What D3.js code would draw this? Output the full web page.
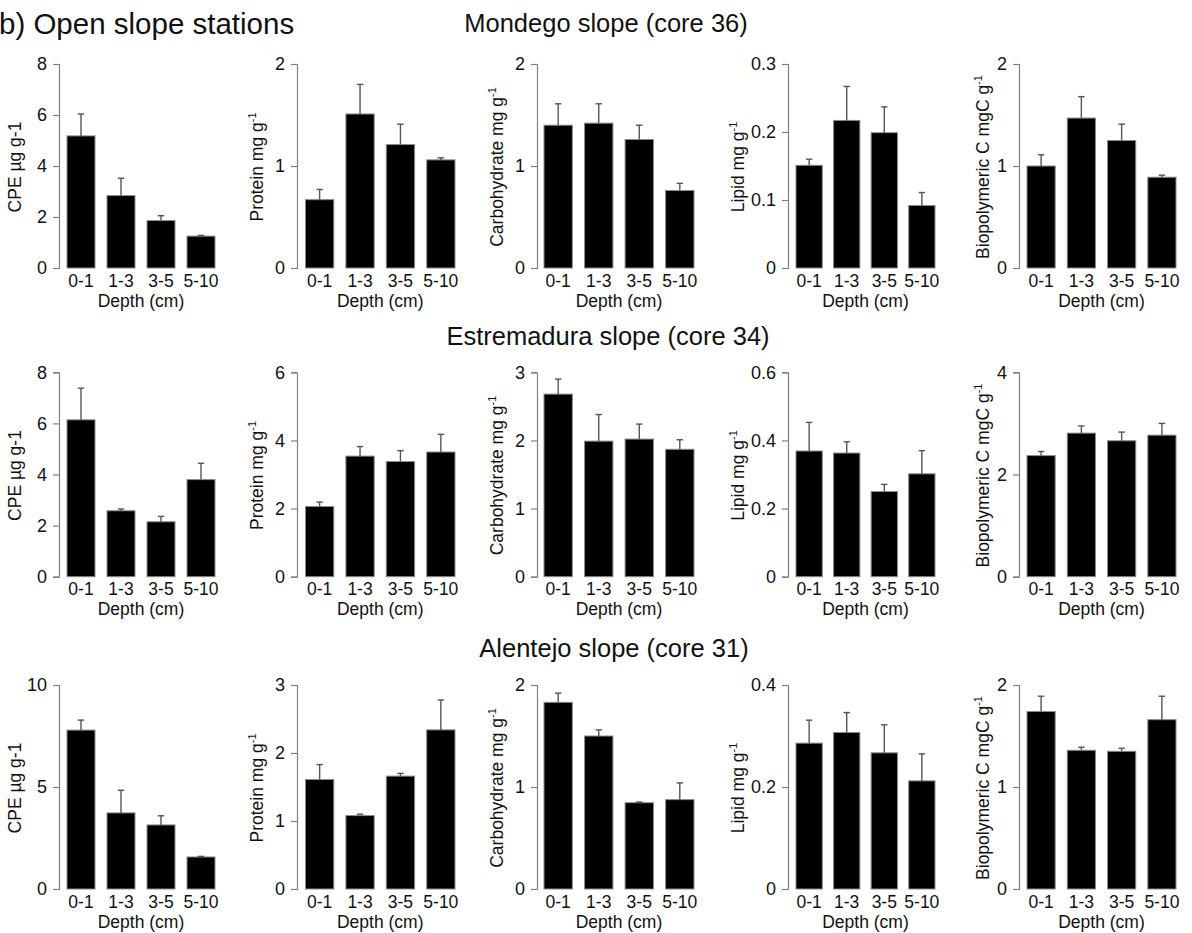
<!DOCTYPE html>
<html>
<head>
<meta charset="utf-8">
<script src="https://cdn.jsdelivr.net/npm/d3@7"></script>
<style>
  html, body { margin: 0; padding: 0; background: #fff; }
  svg { display: block; font-family: "Liberation Sans", Arial, sans-serif; }
</style>
</head>
<body>
<svg id="chart" width="1192" height="933"></svg>
<script>
// ---------- data ----------
const depths = ["0-1", "1-3", "3-5", "5-10"];
const stations = ["Mondego slope (core 36)", "Estremadura slope (core 34)", "Alentejo slope (core 31)"];
const variables = ["CPE", "Protein", "Carbohydrate", "Lipid", "Biopolymeric C"];
const yLabelMain = ["CPE µg g-1", "Protein mg g", "Carbohydrate mg g", "Lipid mg g", "Biopolymeric C mgC g"];
const yLabelSup = ["", "-1", "-1", "-1", "-1"];
const panelTitle = "b) Open slope stations";
const xTitle = "Depth (cm)";

// means per variable (CPE, Protein, Carbohydrate, Lipid, Biopolymeric C)
const mondegoMean = [
  [5.18, 2.84, 1.86, 1.25],
  [0.67, 1.51, 1.21, 1.06],
  [1.40, 1.42, 1.26, 0.76],
  [0.151, 0.217, 0.199, 0.092],
  [1.00, 1.47, 1.25, 0.89]
];
const mondegoErr = [
  [0.86, 0.68, 0.19, 0.03],
  [0.10, 0.29, 0.20, 0.02],
  [0.21, 0.19, 0.14, 0.07],
  [0.009, 0.050, 0.038, 0.019],
  [0.11, 0.21, 0.16, 0.02]
];
const mondegoTicks = [[0, 2, 4, 6, 8], [0, 1, 2], [0, 1, 2], [0, 0.1, 0.2, 0.3], [0, 1, 2]];

const estremaduraMean = [
  [6.14, 2.58, 2.15, 3.80],
  [2.06, 3.54, 3.38, 3.66],
  [2.68, 1.99, 2.02, 1.87],
  [0.369, 0.363, 0.250, 0.302],
  [2.37, 2.81, 2.66, 2.77]
];
const estremaduraErr = [
  [1.24, 0.07, 0.21, 0.64],
  [0.13, 0.28, 0.32, 0.52],
  [0.22, 0.39, 0.22, 0.14],
  [0.084, 0.033, 0.021, 0.068],
  [0.08, 0.14, 0.17, 0.23]
];
const estremaduraTicks = [[0, 2, 4, 6, 8], [0, 2, 4, 6], [0, 1, 2, 3], [0, 0.2, 0.4, 0.6], [0, 2, 4]];

const alentejoMean = [
  [7.79, 3.73, 3.14, 1.57],
  [1.61, 1.08, 1.66, 2.34],
  [1.83, 1.50, 0.846, 0.876],
  [0.286, 0.307, 0.267, 0.212],
  [1.74, 1.36, 1.35, 1.66]
];
const alentejoErr = [
  [0.49, 1.11, 0.45, 0.03],
  [0.22, 0.02, 0.04, 0.44],
  [0.09, 0.06, 0.007, 0.164],
  [0.045, 0.039, 0.055, 0.053],
  [0.15, 0.03, 0.03, 0.23]
];
const alentejoTicks = [[0, 5, 10], [0, 1, 2, 3], [0, 1, 2], [0, 0.2, 0.4], [0, 1, 2]];

// ---------- layout ----------
const rowsData = [
  {mean: mondegoMean, err: mondegoErr, ticks: mondegoTicks},
  {mean: estremaduraMean, err: estremaduraErr, ticks: estremaduraTicks},
  {mean: alentejoMean, err: alentejoErr, ticks: alentejoTicks}
];
const rowY = [[268, 64], [576.7, 372.3], [889, 685]];
const rowTitleY = [31.5, 345, 657];
const rowTitleX = [606, 608, 614];
const colAxisX = [59, 297, 537, 788, 1019];
const colBand = [[67, 215], [305.5, 455], [544, 694], [796, 935], [1027, 1176]];
const colLabelOff = [44, 40, 40, 50, 36];

const textColor = "#111";
const axisColor = "#808080";

const svg = d3.select("#chart");

svg.append("text")
  .attr("x", -1).attr("y", 34)
  .attr("font-size", 29.5)
  .attr("fill", textColor)
  .text(panelTitle);

rowsData.forEach((row, r) => {
  svg.append("text")
    .attr("x", rowTitleX[r]).attr("y", rowTitleY[r])
    .attr("text-anchor", "middle")
    .attr("font-size", 25.5)
    .attr("fill", textColor)
    .text(stations[r]);

  variables.forEach((v, c) => {
    const ticks = row.ticks[c];
    const y = d3.scaleLinear().domain([0, d3.max(ticks)]).range(rowY[r]);
    const x = d3.scaleBand().domain(depths).range(colBand[c]).paddingInner(0.3).paddingOuter(0);
    const g = svg.append("g");

    // y axis
    const yAxis = d3.axisLeft(y).tickValues(ticks).tickSize(6).tickPadding(6)
      .tickFormat(d3.format("~g"));
    const ga = g.append("g").attr("transform", `translate(${colAxisX[c]},0)`).call(yAxis);
    ga.select(".domain").attr("stroke", axisColor).attr("stroke-width", 1.2);
    ga.selectAll(".tick line").attr("stroke", axisColor).attr("stroke-width", 1.2);
    ga.selectAll(".tick text").attr("font-size", 18).attr("fill", textColor)
      .attr("font-family", "Liberation Sans, Arial, sans-serif");

    // bars
    const data = depths.map((d, i) => ({d, m: row.mean[c][i], e: row.err[c][i]}));
    g.selectAll("rect.bar").data(data).enter().append("rect")
      .attr("class", "bar")
      .attr("x", d => x(d.d))
      .attr("width", x.bandwidth())
      .attr("y", d => y(d.m))
      .attr("height", d => y(0) - y(d.m))
      .attr("fill", "#000")
      .attr("stroke", "#8a8a8a")
      .attr("stroke-width", 1);

    // error bars (upper only)
    const cap = 3.2;
    const eb = g.selectAll("g.err").data(data).enter().append("g").attr("class", "err");
    eb.append("line")
      .attr("x1", d => x(d.d) + x.bandwidth() / 2)
      .attr("x2", d => x(d.d) + x.bandwidth() / 2)
      .attr("y1", d => y(d.m))
      .attr("y2", d => y(d.m + d.e))
      .attr("stroke", "#555").attr("stroke-width", 1.4);
    eb.append("line")
      .attr("x1", d => x(d.d) + x.bandwidth() / 2 - cap)
      .attr("x2", d => x(d.d) + x.bandwidth() / 2 + cap)
      .attr("y1", d => y(d.m + d.e))
      .attr("y2", d => y(d.m + d.e))
      .attr("stroke", "#555").attr("stroke-width", 1.4);

    // x tick labels
    g.selectAll("text.xt").data(depths).enter().append("text")
      .attr("class", "xt")
      .attr("x", d => x(d) + x.bandwidth() / 2)
      .attr("y", y(0) + 18.5)
      .attr("text-anchor", "middle")
      .attr("font-size", 17.5)
      .attr("fill", textColor)
      .text(d => d);

    // x title
    g.append("text")
      .attr("x", (colBand[c][0] + colBand[c][1]) / 2)
      .attr("y", y(0) + 38.5)
      .attr("text-anchor", "middle")
      .attr("font-size", 17.5)
      .attr("fill", textColor)
      .text(xTitle);

    // y title
    const lx = colAxisX[c] - colLabelOff[c] + 6;
    const ly = (rowY[r][0] + rowY[r][1]) / 2 + 1;
    const t = g.append("text")
      .attr("transform", `translate(${lx},${ly}) rotate(-90)`)
      .attr("text-anchor", "middle")
      .attr("font-size", 17.5)
      .attr("fill", textColor);
    t.append("tspan").text(yLabelMain[c]);
    if (yLabelSup[c]) {
      t.append("tspan").attr("dy", -7).attr("font-size", 11).text(yLabelSup[c]);
    }
  });
});
</script>
</body>
</html>
